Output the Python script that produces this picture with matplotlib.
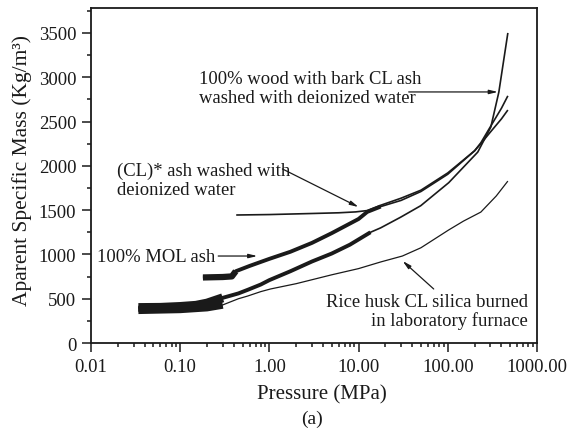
import matplotlib
matplotlib.use("Agg")
import matplotlib.pyplot as plt
from matplotlib.ticker import MultipleLocator, LogLocator, NullFormatter

plt.rcParams["font.family"] = ["Liberation Serif", "DejaVu Serif"]

# pressure (MPa) / apparent specific mass (kg/m3)
mol_p = [0.18, 0.30, 0.38, 0.42, 0.6, 1.0, 1.72, 3, 5, 10, 12.5, 17.7, 30, 50, 100, 200, 235, 300, 400, 472]
mol_rho = [740, 745, 752, 810, 870, 950, 1030, 1130, 1240, 1400, 1480, 1540, 1610, 1710, 1905, 2170, 2260, 2440, 2650, 2790]

clw_p = [0.425, 1, 3, 6, 9.25, 12.5, 17.7, 30, 50, 100, 200, 235, 300, 400, 472]
clw_rho = [1445, 1450, 1462, 1470, 1480, 1495, 1555, 1635, 1725, 1920, 2170, 2250, 2380, 2530, 2630]

wood_p = [0.034, 0.06, 0.1, 0.15, 0.2, 0.3, 0.45, 0.57, 0.8, 1.0, 1.72, 3, 5, 8, 13.6,
          17.7, 29.6, 49.8, 102.6, 217, 304, 374, 472]
wood_rho = [400, 402, 412, 425, 450, 510, 560, 600, 660, 710, 810, 920, 1010, 1110, 1250,
            1300, 1420, 1550, 1810, 2155, 2437, 2832, 3500]

rice_p = [0.034, 0.1, 0.2, 0.3, 0.45, 0.57, 0.8, 1.03, 2, 5, 10, 17.7, 31, 50,
          102, 150, 235, 350, 472]
rice_rho = [370, 380, 400, 430, 500, 530, 580, 610, 670, 770, 840, 915, 982, 1075,
            1275, 1376, 1478, 1660, 1828]

xticks = [0.01, 0.1, 1, 10, 100, 1000]
xtick_labels = ["0.01", "0.10", "1.00", "10.00", "100.00", "1000.00"]

ink = "#1a1a1a"

fig = plt.figure(figsize=(5.7, 4.31), dpi=100)
ax = fig.add_axes([0.1596, 0.2018, 0.7824, 0.777])


def draw(p, rho, lw, noisy=()):
    ax.plot(p, rho, color=ink, lw=lw, solid_capstyle="butt", solid_joinstyle="round")
    # the measured data is jagged at low pressure, drawn as a thicker band
    for limit, width in noisy:
        pp = [a for a in p if a <= limit]
        rr = [b for a, b in zip(p, rho) if a <= limit]
        ax.plot(pp, rr, color=ink, lw=width, solid_capstyle="butt")


draw(rice_p, rice_rho, 0.9, noisy=[(0.3, 5.5)])
draw(wood_p, wood_rho, 1.2, noisy=[(0.3, 6.5), (13.6, 2.8)])
draw(mol_p, mol_rho, 1.2, noisy=[(0.42, 4.5), (17.7, 2.8)])
draw(clw_p, clw_rho, 1.2)

ax.set_xscale("log")
ax.set_xlim(0.01, 1000)
ax.set_ylim(0, 3780)
ax.set_xticks(xticks)
ax.set_xticklabels(xtick_labels)
ax.xaxis.set_minor_locator(LogLocator(base=10, subs=range(2, 10)))
ax.xaxis.set_minor_formatter(NullFormatter())
ax.yaxis.set_major_locator(MultipleLocator(500))
ax.yaxis.set_minor_locator(MultipleLocator(250))

ax.tick_params(which="both", direction="out", color=ink, width=1.1,
               labelsize=13.5, labelcolor=ink, top=False, right=False)
ax.tick_params(which="major", length=6.5, pad=4)
ax.tick_params(which="minor", length=3)
for s in ax.spines.values():
    s.set_linewidth(1.3)
    s.set_color(ink)

ax.set_xlabel("Pressure (MPa)", fontsize=15, color=ink)
ax.xaxis.set_label_coords(0.517, -0.122)
ax.set_ylabel("Aparent Specific Mass (Kg/m³)", fontsize=15.5, color=ink)
ax.yaxis.set_label_coords(-0.133, 0.519)

arrow = dict(arrowstyle="-|>,head_length=0.5,head_width=0.12", color=ink, lw=0.9,
             shrinkA=0, shrinkB=0)
fs = 13.4
ls = 1.12

ax.text(0.163, 2880, "100% wood with bark CL ash\nwashed with deionized water",
        ha="left", va="center", fontsize=fs, color=ink, linespacing=ls)
ax.annotate("", xy=(365, 2834), xytext=(36.5, 2834), arrowprops=arrow)

ax.text(0.0196, 1840, "(CL)* ash washed with\ndeionized water",
        ha="left", va="center", fontsize=fs, color=ink, linespacing=ls)
ax.annotate("", xy=(10.0, 1535), xytext=(1.40, 1965), arrowprops=arrow)

ax.text(0.247, 975, "100% MOL ash", ha="right", va="center", fontsize=fs, color=ink)
ax.annotate("", xy=(0.733, 982), xytext=(0.267, 982), arrowprops=arrow)

ax.text(792, 360, "Rice husk CL silica burned\nin laboratory furnace",
        ha="right", va="center", fontsize=fs, color=ink, linespacing=ls,
        multialignment="right")
ax.annotate("", xy=(31.2, 926), xytext=(69.6, 610), arrowprops=arrow)

fig.text(0.547, 0.028, "(a)", ha="center", va="center", fontsize=14, color=ink)

fig.savefig("out.png", dpi=100)
